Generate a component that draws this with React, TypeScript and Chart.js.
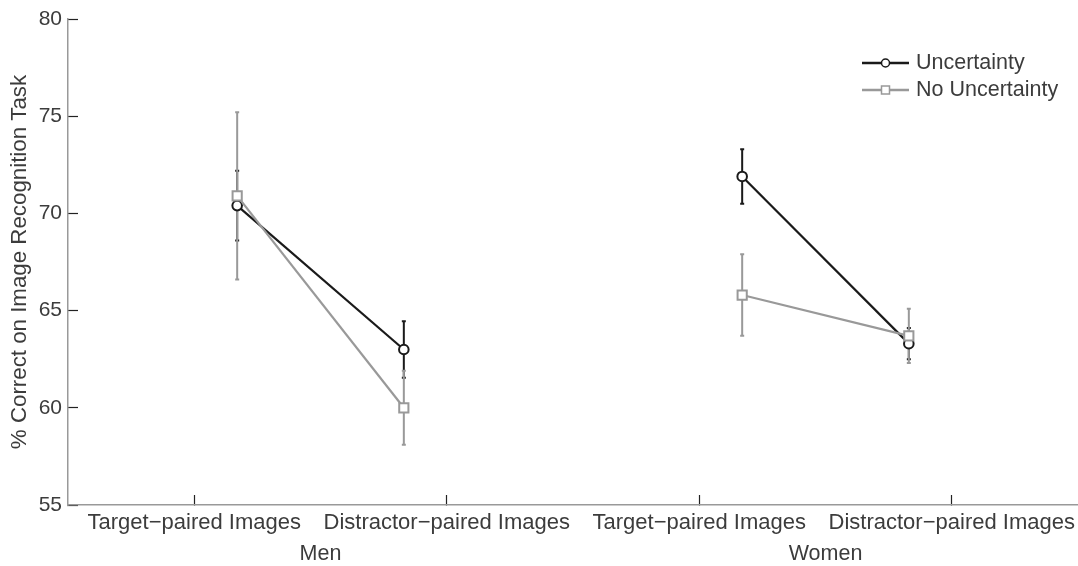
import { useEffect, useRef } from 'react';
import { Chart, registerables } from 'chart.js';

Chart.register(...registerables);

const conditionLabels = ['Target−paired Images', 'Distractor−paired Images', 'Target−paired Images', 'Distractor−paired Images'];
const groupLabels = ['Men', 'Women'];
const tickPositions = [1, 2, 3, 4];
const pointPositions = [1.17, 1.83, 3.17, 3.83];
const uncertaintyMeans = [70.4, 63.0, 71.9, 63.3];
const uncertaintyErrors = [1.8, 1.45, 1.4, 0.8];
const noUncertaintyMeans = [70.9, 60.0, 65.8, 63.7];
const noUncertaintyErrors = [4.3, 1.9, 2.1, 1.4];
const yTicks = [55, 60, 65, 70, 75, 80];

const FONT = '"Liberation Sans", Arial, Helvetica, sans-serif';
const TEXT = '#3c3c3c';
const BLACK = '#1a1a1a';
const GRAY = '#999999';

const errorBarPlugin = {
  id: 'errorBars',
  beforeDatasetsDraw(chart: any) {
    const { ctx, scales } = chart;
    const xs = scales.x;
    const ys = scales.y;
    [0, 1].forEach((i) => {
      const ds = chart.data.datasets[i];
      const errs: number[] = ds.errors;
      ctx.save();
      ctx.strokeStyle = ds.borderColor;
      ctx.lineWidth = 2;
      ds.data.forEach((p: any, j: number) => {
        const px = xs.getPixelForValue(p.x);
        const top = ys.getPixelForValue(p.y + errs[j]);
        const bot = ys.getPixelForValue(p.y - errs[j]);
        ctx.beginPath();
        ctx.moveTo(px, top);
        ctx.lineTo(px, bot);
        ctx.moveTo(px - 2, top);
        ctx.lineTo(px + 2, top);
        ctx.moveTo(px - 2, bot);
        ctx.lineTo(px + 2, bot);
        ctx.stroke();
      });
      ctx.restore();
    });
  },
};

const legendPlugin = {
  id: 'lineLegend',
  afterDraw(chart: any) {
    const { ctx } = chart;
    const rowsY = [63, 90];
    chart.data.datasets.forEach((ds: any, i: number) => {
      const y = rowsY[i];
      ctx.save();
      ctx.strokeStyle = ds.borderColor;
      ctx.lineWidth = 2.5;
      ctx.beginPath();
      ctx.moveTo(862, y);
      ctx.lineTo(909, y);
      ctx.stroke();
      ctx.fillStyle = '#ffffff';
      ctx.lineWidth = 1.5;
      ctx.beginPath();
      if (ds.pointStyle === 'circle') {
        ctx.arc(885.5, y, 4, 0, Math.PI * 2);
      } else {
        ctx.rect(881.5, y - 4, 8, 8);
      }
      ctx.fill();
      ctx.stroke();
      ctx.fillStyle = TEXT;
      ctx.font = `21.5px ${FONT}`;
      ctx.textBaseline = 'middle';
      ctx.textAlign = 'left';
      ctx.fillText(ds.label, 916, y);
      ctx.restore();
    });
  },
};

const zeroPad = (s: any) => {
  s.paddingLeft = 0;
  s.paddingRight = 0;
  s.paddingTop = 0;
  s.paddingBottom = 0;
};

export default function App() {
  const canvasRef = useRef<HTMLCanvasElement | null>(null);

  useEffect(() => {
    document.body.style.margin = '0';
    const canvas = canvasRef.current;
    if (!canvas) return;
    const makeData = (means: number[]) => means.map((m, i) => ({ x: pointPositions[i], y: m }));
    const chart = new Chart(canvas, {
      type: 'line',
      data: {
        datasets: [
          {
            label: 'Uncertainty',
            data: makeData(uncertaintyMeans),
            errors: uncertaintyErrors,
            borderColor: BLACK,
            backgroundColor: '#ffffff',
            borderWidth: 2.2,
            pointStyle: 'circle',
            pointRadius: 4.8,
            pointBorderWidth: 2,
            pointBackgroundColor: '#ffffff',
            pointBorderColor: BLACK,
            order: 1,
            segment: {
              borderColor: (c: any) => (c.p0DataIndex === 1 ? 'rgba(0,0,0,0)' : BLACK),
            },
          } as any,
          {
            label: 'No Uncertainty',
            data: makeData(noUncertaintyMeans),
            errors: noUncertaintyErrors,
            borderColor: GRAY,
            backgroundColor: '#ffffff',
            borderWidth: 2.2,
            pointStyle: 'rect',
            pointRadius: 6.5,
            pointBorderWidth: 2,
            pointBackgroundColor: '#ffffff',
            pointBorderColor: GRAY,
            order: 0,
            segment: {
              borderColor: (c: any) => (c.p0DataIndex === 1 ? 'rgba(0,0,0,0)' : GRAY),
            },
          } as any,
        ],
      },
      options: {
        animation: false,
        responsive: true,
        maintainAspectRatio: false,
        layout: { autoPadding: false, padding: { top: 19, right: 0, left: 0, bottom: 0 } },
        plugins: { legend: { display: false }, tooltip: { enabled: false } },
        scales: {
          x: {
            type: 'linear',
            position: 'bottom',
            weight: 0,
            min: 0.5,
            max: 4.5,
            afterBuildTicks: (s: any) => {
              s.ticks = tickPositions.map((v) => ({ value: v }));
            },
            afterFit: (s: any) => {
              s.height = 34;
              zeroPad(s);
            },
            border: { color: GRAY, width: 1.5 },
            grid: { drawOnChartArea: false, tickLength: -10, tickColor: '#222222', tickWidth: 1.2 },
            ticks: {
              autoSkip: false,
              maxRotation: 0,
              padding: 15,
              color: TEXT,
              font: { family: FONT, size: 22 },
              callback: (v: any) => conditionLabels[tickPositions.indexOf(Number(v))],
            },
          },
          group: {
            type: 'category',
            position: 'bottom',
            weight: 1,
            labels: groupLabels,
            offset: true,
            afterFit: (s: any) => {
              s.height = 27;
              zeroPad(s);
            },
            border: { display: false },
            grid: { display: false, drawTicks: false },
            ticks: { padding: 2, color: TEXT, font: { family: FONT, size: 21.5 } },
          },
          y: {
            type: 'linear',
            min: 55,
            max: 80,
            afterBuildTicks: (s: any) => {
              s.ticks = yTicks.map((v) => ({ value: v }));
            },
            afterFit: (s: any) => {
              s.width = 68;
              zeroPad(s);
            },
            border: { color: GRAY, width: 1.5 },
            grid: { drawOnChartArea: false, tickLength: -10, tickColor: '#222222', tickWidth: 1.2 },
            ticks: { padding: 16, color: TEXT, font: { family: FONT, size: 21 } },
            title: {
              display: true,
              text: '% Correct on Image Recognition Task',
              color: TEXT,
              font: { family: FONT, size: 22.3 },
              padding: { top: 6, bottom: 0 },
            },
          },
        },
      } as any,
      plugins: [errorBarPlugin, legendPlugin],
    });
    return () => chart.destroy();
  }, []);

  return (
    <div style={{ position: 'relative', width: '1078px', height: '566px', background: '#ffffff' }}>
      <canvas ref={canvasRef} />
    </div>
  );
}
